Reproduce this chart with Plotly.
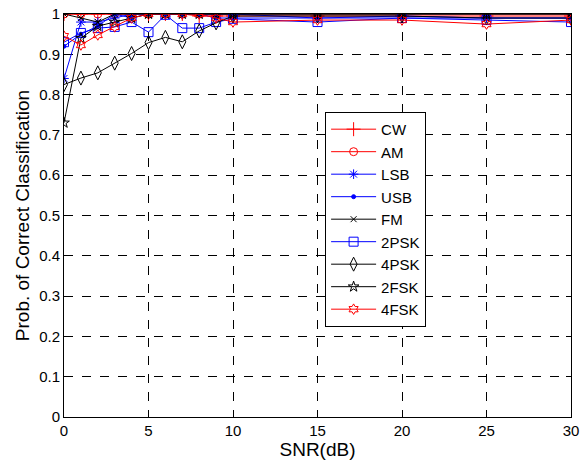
import plotly.graph_objects as go

snr = [0, 1, 2, 3, 4, 5, 6, 7, 8, 9, 10, 15, 20, 25, 30]

cw   = [1.0, 1.0, 1.0, 1.0, 1.0, 1.0, 1.0, 1.0, 0.995, 0.995, 0.995, 0.995, 0.995, 0.995, 0.995]
am   = [1.0, 1.0, 1.0, 1.0, 1.0, 1.0, 1.0, 1.0, 1.0, 1.0, 1.0, 1.0, 1.0, 1.0, 1.0]
lsb  = [0.84, 0.98, 0.98, 0.99, 1.0, 1.0, 1.0, 1.0, 1.0, 1.0, 1.0, 0.99, 0.995, 0.99, 0.99]
usb  = [0.92, 0.95, 0.97, 1.0, 0.99, 1.0, 1.0, 1.0, 1.0, 0.99, 0.99, 0.99, 0.99, 0.99, 0.99]
fm   = [1.0, 0.99, 0.98, 1.0, 1.0, 1.0, 1.0, 1.0, 1.0, 1.0, 1.0, 1.0, 1.0, 1.0, 1.0]
psk2 = [0.93, 0.953, 0.965, 0.968, 0.98, 0.955, 0.998, 0.965, 0.965, 0.98, 0.988, 0.98, 0.99, 0.985, 0.98]
psk4 = [0.825, 0.841, 0.854, 0.878, 0.902, 0.929, 0.942, 0.931, 0.958, 0.978, 0.995, 0.995, 0.995, 0.99, 0.99]
fsk2 = [0.73, 0.94, 0.97, 0.98, 0.99, 1.0, 1.0, 1.0, 1.0, 1.0, 1.0, 1.0, 1.0, 1.0, 1.0]
fsk4 = [0.945, 0.923, 0.948, 0.968, 0.99, 1.0, 1.0, 1.0, 1.0, 0.99, 0.98, 0.985, 0.985, 0.975, 0.985]

series = [
    ("CW", cw, "#ff0000", "cross-thin-open", 10),
    ("AM", am, "#ff0000", "circle-open", 8),
    ("LSB", lsb, "#0000ff", "asterisk-open", 8),
    ("USB", usb, "#0000ff", "circle", 4),
    ("FM", fm, "#000000", "x-thin-open", 6),
    ("2PSK", psk2, "#0000ff", "square-open", 9),
    ("4PSK", psk4, "#000000", "diamond-tall-open", 10),
    ("2FSK", fsk2, "#000000", "star-open", 8),
    ("4FSK", fsk4, "#ff0000", "hexagram-open", 8),
]

FONT = "Liberation Sans, Arial"

fig = go.Figure()
for i, (name, vals, col, sym, sz) in enumerate(series):
    fig.add_trace(go.Scatter(
        x=snr, y=vals, name=name, mode="lines+markers",
        legendgroup=f"g{i}",
        line=dict(color=col, width=1),
        marker=dict(symbol=sym, size=sz, color=col, line=dict(color=col, width=1)),
    ))

axis_common = dict(
    showline=True, linecolor="black", linewidth=1, mirror="ticks",
    ticks="inside", ticklen=5, tickcolor="black",
    showgrid=True, gridcolor="black", griddash="dash", gridwidth=1,
    zeroline=False, automargin=False,
    tickfont=dict(family=FONT, size=15, color="black"),
)

fig.update_xaxes(range=[0, 30], dtick=5, tick0=0,
                 title=dict(text="SNR(dB)", font=dict(family=FONT, size=19, color="black"), standoff=0),
                 **axis_common)
fig.update_yaxes(range=[0, 1], dtick=0.1, tick0=0,
                 title=dict(text="Prob. of Correct Classification", font=dict(family=FONT, size=19, color="black"), standoff=4),
                 **axis_common)

fig.update_layout(
    width=588, height=467,
    margin=dict(l=64, r=17, t=14, b=50, autoexpand=False),
    paper_bgcolor="white", plot_bgcolor="white",
    font=dict(family=FONT, size=15, color="black"),
    legend=dict(
        x=0.515, y=0.757, xanchor="left", yanchor="top",
        bgcolor="white", bordercolor="black", borderwidth=1,
        font=dict(family=FONT, size=15, color="black"),
        traceorder="grouped", tracegroupgap=0,
        itemwidth=45,
    ),
    showlegend=True,
)

fig.write_html("out.html")
